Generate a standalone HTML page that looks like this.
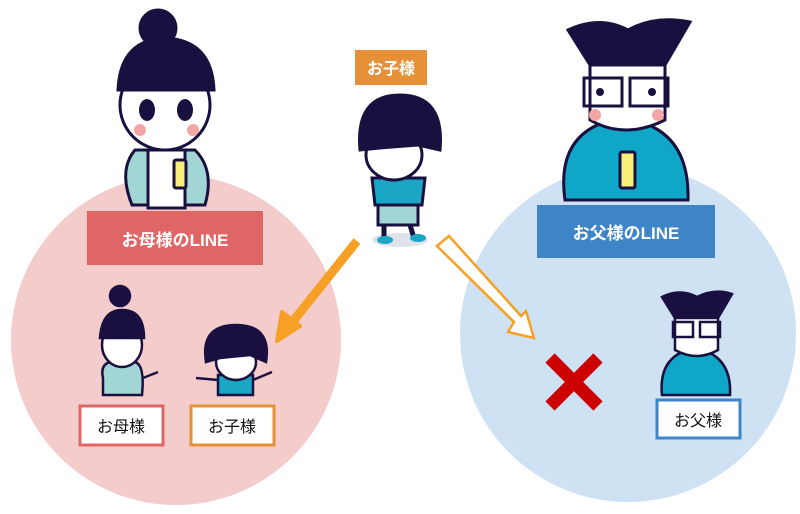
<!DOCTYPE html>
<html><head><meta charset="utf-8"><style>
html,body{margin:0;padding:0;background:#fff;}
svg{display:block}
text{font-family:"Liberation Sans","Noto Sans CJK JP",sans-serif;}
</style></head><body>
<svg width="800" height="514" viewBox="0 0 800 514" xmlns="http://www.w3.org/2000/svg">
<circle cx="176" cy="340" r="165" fill="#f4cccc"/>
<circle cx="628" cy="334" r="168" fill="#cfe2f3"/>

<!-- mother big -->
<g stroke="#1a1040" stroke-width="3">
<path d="M135 150 Q118 170 132 205 L205 205 Q215 170 195 150 Z" fill="#a2d6d4"/>
<path d="M148 150 L148 208 L185 208 L185 150 Z" fill="#fff"/>
<rect x="174" y="160" width="12" height="28" rx="2" fill="#f6ee77"/>
<ellipse cx="165" cy="105" rx="45" ry="45" fill="#fff"/>
<path d="M118 90 Q120 40 165 38 Q212 40 214 90 Z" fill="#1a1040"/>
<circle cx="158" cy="28" r="18" fill="#1a1040"/>
</g>
<ellipse cx="147" cy="110" rx="8" ry="11" fill="#1a1040"/><ellipse cx="185" cy="110" rx="8" ry="11" fill="#1a1040"/>
<circle cx="140" cy="130" r="6" fill="#f4a6a6"/><circle cx="193" cy="130" r="6" fill="#f4a6a6"/>

<!-- child big -->
<ellipse cx="400" cy="240" rx="28" ry="7" fill="#dde3e8"/>
<g stroke="#1a1040" stroke-width="3">
<rect x="378" y="200" width="40" height="25" fill="#a2d6d4"/>
<path d="M372 178 L425 178 L422 205 L375 205 Z" fill="#1aa6c4"/>
<ellipse cx="394" cy="155" rx="28" ry="25" fill="#fff"/>
<path d="M360 150 Q355 95 400 95 Q445 95 440 150 L418 145 L380 148 Z" fill="#1a1040"/>
</g>
<path d="M384 225 L384 238 M410 225 L414 238" stroke="#1a1040" stroke-width="5"/>
<ellipse cx="385" cy="240" rx="8" ry="4" fill="#1aa6c4"/><ellipse cx="418" cy="238" rx="8" ry="4" fill="#1aa6c4"/>

<!-- father big -->
<g stroke="#1a1040" stroke-width="3">
<path d="M565 200 Q555 130 620 118 Q690 125 688 200 Z" fill="#10a6c8"/>
<rect x="620" y="152" width="15" height="36" rx="2" fill="#f6ee77"/>
<path d="M590 55 L590 120 Q625 140 665 120 L665 55 Z" fill="#fff"/>
<path d="M568 30 Q600 15 628 30 Q655 15 690 22 L665 65 L590 65 Z" fill="#1a1040"/>
<rect x="584" y="78" width="38" height="28" fill="none"/><rect x="630" y="78" width="38" height="28" fill="none"/>
</g>
<circle cx="600" cy="92" r="4" fill="#1a1040"/><circle cx="652" cy="92" r="4" fill="#1a1040"/>
<circle cx="595" cy="115" r="6" fill="#f4a6a6"/><circle cx="658" cy="115" r="6" fill="#f4a6a6"/>

<!-- small mother -->
<g stroke="#1a1040" stroke-width="2.5">
<path d="M103 378 Q100 365 110 362 L135 362 Q145 365 142 395 L103 395 Z" fill="#a2d6d4"/>
<ellipse cx="122" cy="345" rx="20" ry="22" fill="#fff"/>
<path d="M100 338 Q102 310 122 310 Q144 310 144 338 Z" fill="#1a1040"/>
<circle cx="120" cy="296" r="10" fill="#1a1040"/>
<path d="M143 378 L158 372" fill="none"/>
</g>
<!-- small child -->
<g stroke="#1a1040" stroke-width="2.5">
<rect x="218" y="375" width="35" height="20" fill="#1aa6c4"/>
<ellipse cx="236" cy="362" rx="20" ry="18" fill="#fff"/>
<path d="M206 362 Q200 325 236 325 Q272 325 266 362 L250 355 L220 358 Z" fill="#1a1040"/>
<path d="M218 380 L196 378 M253 380 L272 372" fill="none"/>
</g>
<!-- small father -->
<g stroke="#1a1040" stroke-width="2.5">
<path d="M662 395 Q658 355 695 348 Q732 355 730 395 Z" fill="#10a6c8"/>
<path d="M675 310 L675 350 Q697 362 718 350 L718 310 Z" fill="#fff"/>
<path d="M662 297 Q680 288 697 297 Q715 288 732 294 L718 318 L675 318 Z" fill="#1a1040"/>
<rect x="673" y="322" width="20" height="15" fill="none"/><rect x="700" y="322" width="20" height="15" fill="none"/>
</g>

<!-- labels -->
<rect x="87" y="211" width="176" height="54" fill="#e06666"/>
<text x="175" y="246" font-size="17" font-weight="bold" fill="#fff" text-anchor="middle">お母様のLINE</text>
<rect x="537" y="205" width="178" height="53" fill="#3d85c6"/>
<text x="626" y="239" font-size="17" font-weight="bold" fill="#fff" text-anchor="middle">お父様のLINE</text>
<rect x="355" y="50" width="72" height="35" fill="#e69138"/>
<text x="391" y="74" font-size="16" font-weight="bold" fill="#fff" text-anchor="middle">お子様</text>

<rect x="80" y="406" width="83" height="39" fill="#fff" stroke="#e06666" stroke-width="3"/>
<text x="121" y="432" font-size="16" fill="#111" text-anchor="middle">お母様</text>
<rect x="191" y="406" width="83" height="39" fill="#fff" stroke="#e69138" stroke-width="3"/>
<text x="232" y="432" font-size="16" fill="#111" text-anchor="middle">お子様</text>
<rect x="657" y="400" width="83" height="38" fill="#fff" stroke="#3d85c6" stroke-width="3"/>
<text x="698" y="426" font-size="16" fill="#111" text-anchor="middle">お父様</text>

<!-- arrows -->
<line x1="357" y1="241" x2="294" y2="320" stroke="#f6a025" stroke-width="9"/>
<polygon points="277,341 282,312 300,326" fill="#f6a025" stroke="#f6a025" stroke-width="4" stroke-linejoin="round"/>
<polygon points="443,241 449,236 521,316 526,311 534,338 508,332 514,322 437,246" fill="#fff" stroke="#f6a025" stroke-width="2.5" stroke-linejoin="miter"/>

<!-- X -->
<g stroke="#cc0000" stroke-width="13">
<line x1="550" y1="358" x2="598" y2="406"/><line x1="598" y1="358" x2="550" y2="406"/>
</g>
</svg>
</body></html>
